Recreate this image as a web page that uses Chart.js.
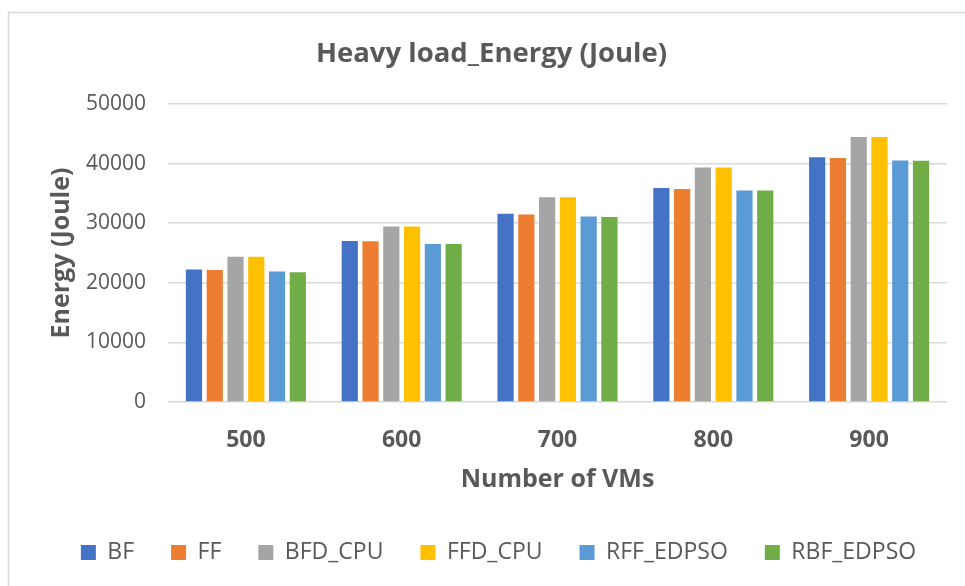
<!DOCTYPE html>
<html>
<head>
<meta charset="utf-8">
<script src="https://cdn.jsdelivr.net/npm/chart.js@4"></script>
<style>
  html, body { margin: 0; padding: 0; background: #ffffff; }
  #wrap { width: 965px; height: 586px; position: relative; }
</style>
</head>
<body>
<div id="wrap"><canvas id="energyChart" width="965" height="586"></canvas></div>
<script>
'use strict';

/* ── Data ─────────────────────────────────── */
const VM_COUNTS = ['500', '600', '700', '800', '900'];

const BF        = [22230, 27030, 31590, 35920, 41050];
const FF        = [22130, 26960, 31470, 35750, 40930];
const BFD_CPU   = [24380, 29440, 34340, 39360, 44480];
const FFD_CPU   = [24380, 29440, 34340, 39360, 44480];
const RFF_EDPSO = [21900, 26520, 31130, 35470, 40540];
const RBF_EDPSO = [21790, 26520, 31020, 35470, 40480];

const SERIES_NAMES = ['BF', 'FF', 'BFD_CPU', 'FFD_CPU', 'RFF_EDPSO', 'RBF_EDPSO'];
const SERIES_DATA  = [BF, FF, BFD_CPU, FFD_CPU, RFF_EDPSO, RBF_EDPSO];

/* ── Office palette ───────────────────────── */
const COLORS = ['#4472C4', '#ED7D31', '#A5A5A5', '#FFC000', '#5B9BD5', '#70AD47'];
const TEXT   = '#595959';
const GRID   = '#d9d9d9';
const FONT   = "'Open Sans', sans-serif";

Chart.defaults.font.family = FONT;
Chart.defaults.color       = TEXT;

// light frame around the whole chart
const framePlugin = {
  id: 'frame',
  beforeDraw(chart) {
    const ctx = chart.ctx;
    ctx.save();
    ctx.strokeStyle = GRID;
    ctx.lineWidth = 1.5;
    ctx.strokeRect(8.5, 12.5, 1200, 1200);
    ctx.restore();
  },
};

// title and legend are centred on the frame, not on the plot
const nudgePlugin = {
  id: 'nudge',
  afterLayout(chart) {
    const t = chart.titleBlock;
    if (t) { t.left += 8; t.right += 8; }
    const l = chart.legend;
    if (l) { l.left += 15; l.right += 15; l.top += 2; l.bottom += 2; }
  },
};

new Chart(document.getElementById('energyChart').getContext('2d'), {
  type: 'bar',
  data: {
    labels: VM_COUNTS,
    datasets: SERIES_NAMES.map((name, i) => ({
      label: name,
      data: SERIES_DATA[i],
      backgroundColor: COLORS[i],
      borderWidth: 0,
      barPercentage: 0.78,
      categoryPercentage: 0.8,
    })),
  },
  options: {
    responsive: false,
    animation: false,
    layout: { padding: { left: 20, right: 18, top: 0, bottom: 14 } },
    plugins: {
      title: {
        display: true,
        text: 'Heavy load_Energy (Joule)',
        color: TEXT,
        font: { size: 27.5, weight: '700' },
        padding: { top: 38, bottom: 33 },
      },
      legend: {
        position: 'bottom',
        labels: {
          color: TEXT,
          font: { size: 23 },
          boxWidth: 15,
          boxHeight: 15,
          padding: 37,
        },
      },
      tooltip: { enabled: false },
    },
    scales: {
      x: {
        grid: { display: false, drawTicks: false },
        border: { display: false },
        ticks: { color: TEXT, font: { size: 23, weight: '700' }, padding: 25 },
        title: {
          display: true,
          text: 'Number of VMs',
          color: TEXT,
          font: { size: 25, weight: '700' },
          padding: { top: 0, bottom: 7 },
        },
        afterFit(scale) { scale.height = 100; },
      },
      y: {
        min: 0,
        max: 50000,
        ticks: {
          stepSize: 10000,
          color: TEXT,
          font: { size: 21 },
          padding: 22,
          callback: v => String(v),
        },
        grid: { color: GRID, lineWidth: 1.5, drawTicks: false },
        border: { display: false },
        title: {
          display: true,
          text: 'Energy (Joule)',
          color: TEXT,
          font: { size: 25, weight: '700' },
          padding: { top: 27, bottom: 0 },
        },
        afterFit(scale) { scale.width = 148; },
      },
    },
  },
  plugins: [framePlugin, nudgePlugin],
});
</script>
</body>
</html>
